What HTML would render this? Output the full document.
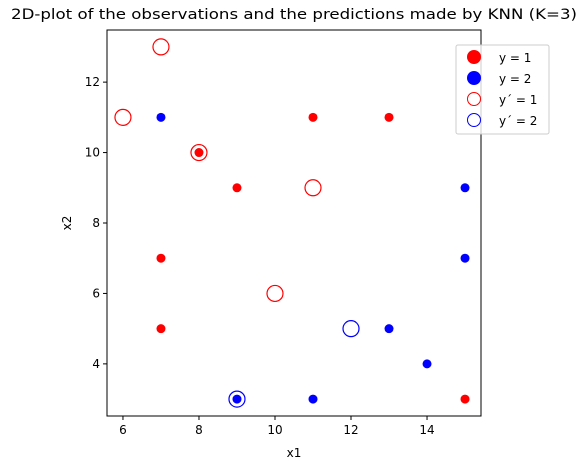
<!DOCTYPE html>
<html><head><meta charset="utf-8"><style>body{margin:0;background:#fff}svg{display:block;font-family:"DejaVu Sans","Liberation Sans",sans-serif}</style></head>
<body>
<svg id="chart" width="588" height="470">
<text x="294" y="19" font-size="14.5" text-anchor="middle" textLength="566" lengthAdjust="spacingAndGlyphs">2D-plot of the observations and the predictions made by KNN (K=3)</text>
<g id="plot"></g>
<text x="294" y="457" font-size="12" text-anchor="middle">x1</text>
<text x="71" y="223" font-size="12" text-anchor="middle" transform="rotate(-90 71 223)">x2</text>
<g>
<rect x="456" y="45" width="93" height="89" rx="2" fill="#fff" fill-opacity="0.8" stroke="#ccc"/>
<circle cx="474" cy="57" r="7" fill="red"/>
<text x="499" y="62" font-size="12">y = 1</text>
<circle cx="474" cy="78" r="7" fill="blue"/>
<text x="499" y="83" font-size="12">y = 2</text>
<circle cx="474" cy="99" r="6.5" fill="none" stroke="red"/>
<text x="499" y="104" font-size="12">y´ = 1</text>
<circle cx="474" cy="120" r="6.5" fill="none" stroke="blue"/>
<text x="499" y="125" font-size="12">y´ = 2</text>
</g>
</svg>
<script>
const obs1X=[8,9,11,13,7,7,15];
const obs1Y=[10,9,11,11,7,5,3];
const obs2X=[7,15,15,13,14,9,11];
const obs2Y=[11,9,7,5,4,3,3];
const pred1X=[7,6,8,11,10];
const pred1Y=[13,11,10,9,6];
const pred2X=[12,9];
const pred2Y=[5,3];
const xTicks=[6,8,10,12,14];
const yTicks=[4,6,8,10,12];
const L=107,R=481,T=30,B=416,xMin=5.58,xMax=15.42,yMin=2.52,yMax=13.48;
const sx=v=>L+(v-xMin)/(xMax-xMin)*(R-L);
const sy=v=>B-(v-yMin)/(yMax-yMin)*(B-T);
const NS='http://www.w3.org/2000/svg';
const g=document.getElementById('plot');
function mk(t,a){const e=document.createElementNS(NS,t);for(const k in a)e.setAttribute(k,a[k]);g.appendChild(e);return e;}
for(const t of xTicks){
 const l=mk('line',{x1:sx(t),x2:sx(t),y1:B,y2:B+4,stroke:'#000'});
 
 
 const tx=mk('text',{x:sx(t),y:B+18,'font-size':12,'text-anchor':'middle'});tx.textContent=t;
 
 
}
for(const t of yTicks){
 const l=mk('line',{x1:L-4,x2:L,y1:sy(t),y2:sy(t),stroke:'#000'});
 
 
 const tx=mk('text',{x:L-7,y:sy(t)+4,'font-size':12,'text-anchor':'end'});tx.textContent=t;
 
 
}
function pts(X,Y,fill,stroke,r,name){
 for(let i=0;i<X.length;i++){
  const c=mk('circle',{cx:sx(X[i]),cy:sy(Y[i]),r:r,fill:fill,stroke:stroke,'stroke-width':1.2});
  
  
 }
}
pts(obs1X,obs1Y,'red','none',4.5,'observation-y1');
pts(obs2X,obs2Y,'blue','none',4.5,'observation-y2');
pts(pred1X,pred1Y,'none','red',8,'prediction-y1');
pts(pred2X,pred2Y,'none','blue',8,'prediction-y2');
const f=mk('rect',{x:L,y:T,width:R-L,height:B-T,fill:'none',stroke:'#000','stroke-width':1});


</script>
</body></html>
